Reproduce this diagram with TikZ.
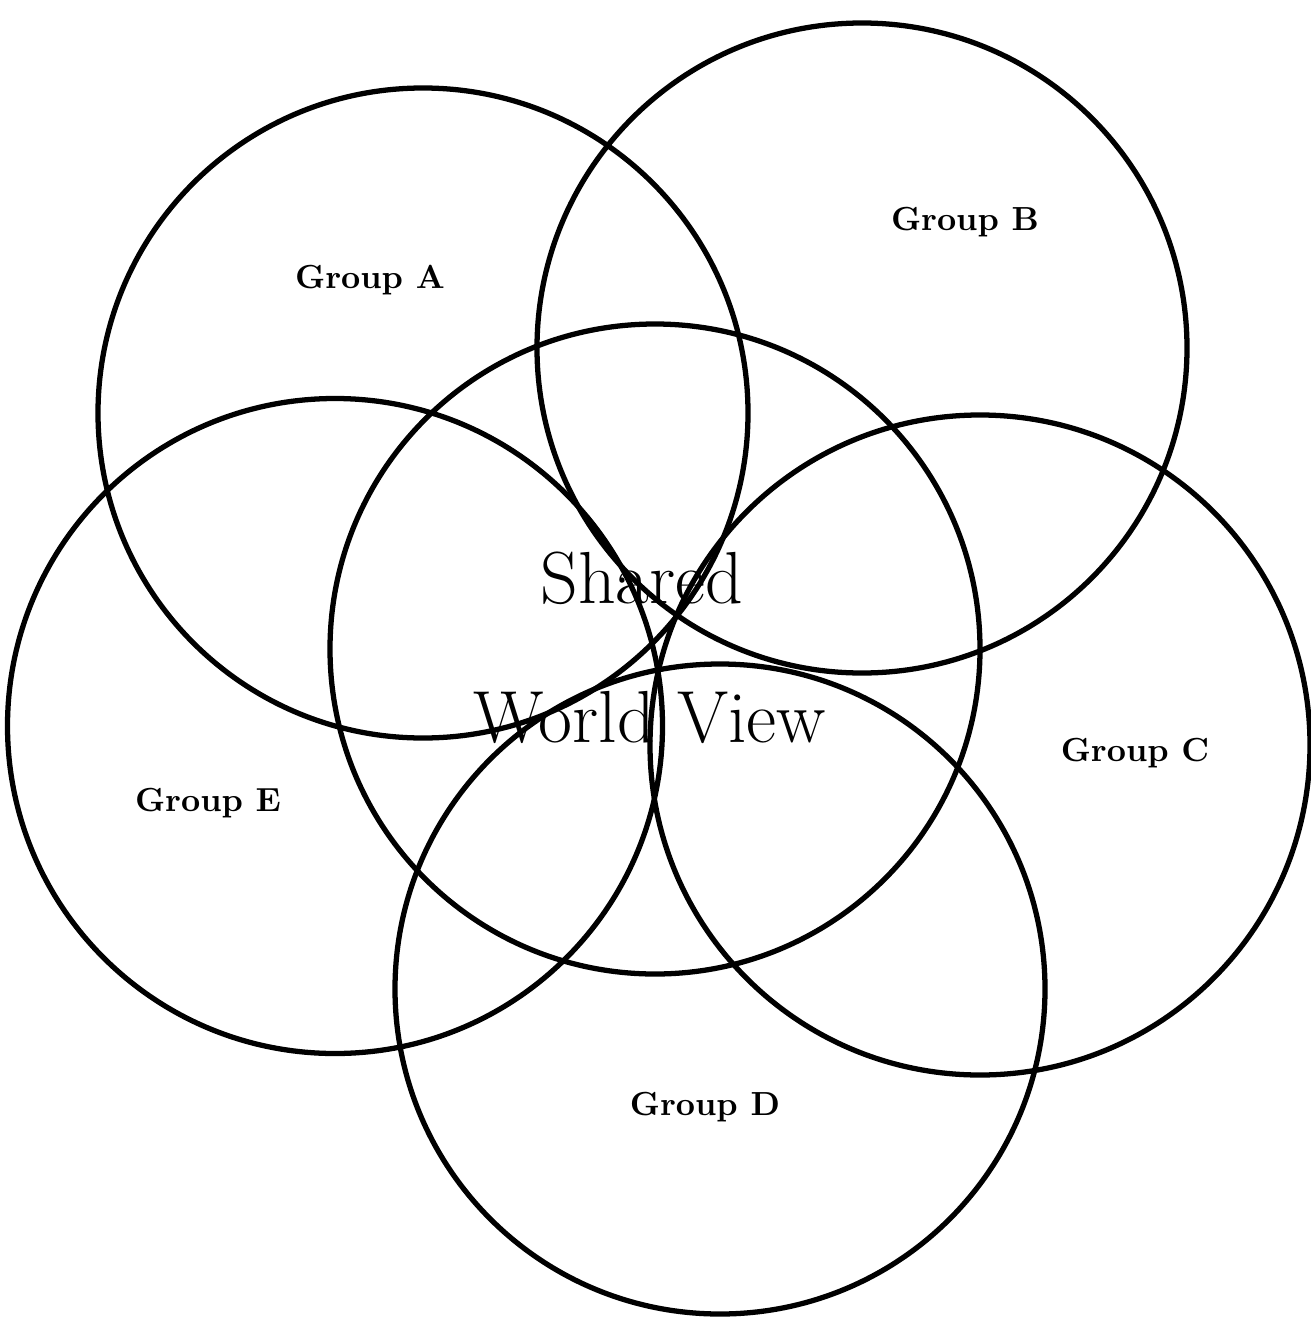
\documentclass[tikz,border=0pt]{standalone}
\begin{document}
\begin{tikzpicture}[
  ring/.style={draw=black, line width=1.5pt, circle, minimum size=6.5cm, inner sep=0pt},
  grp/.style={font=\bfseries\fontsize{9.5}{11}\selectfont},
  big/.style={font=\fontsize{21}{24}\selectfont}
]
\useasboundingbox (0,0) rectangle (13.11,-13.22);
\node[ring] (W) at (6.55,-6.49) {};
\node[ring] (A) at (4.23,-4.13) {};
\node[ring] (B) at (8.62,-3.48) {};
\node[ring, minimum size=6.6cm] (C) at (9.80,-7.45) {};
\node[ring] (D) at (7.20,-9.89) {};
\node[ring, minimum size=6.55cm] (E) at (3.35,-7.26) {};
\node[grp] (la) at (3.70,-2.80) {Group A};
\node[grp] (lb) at (9.65,-2.22) {Group B};
\node[grp] (lc) at (11.35,-7.53) {Group C};
\node[grp] (ld) at (7.05,-11.07) {Group D};
\node[grp] (le) at (2.08,-8.03) {Group E};
\node[big] (s1) at (6.42,-5.78) {Shared};
\node[big] (s2) at (6.50,-7.17) {World View};
\end{tikzpicture}
\end{document}
